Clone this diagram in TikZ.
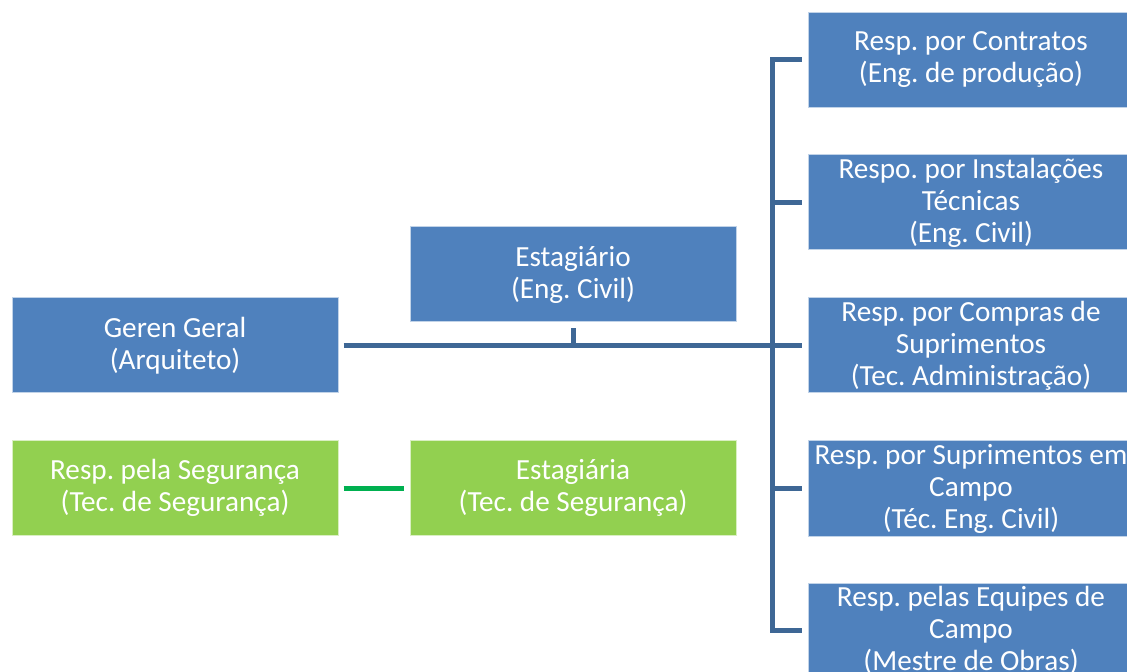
\documentclass[tikz,border=0pt]{standalone}
\usepackage{fontspec}
\setmainfont{Carlito}
\usetikzlibrary{calc}
\definecolor{boxblue}{HTML}{4F81BD}
\definecolor{boxgreen}{HTML}{92D050}
\definecolor{linkblue}{HTML}{3E6795}
\definecolor{linkgreen}{HTML}{00B050}
\frenchspacing
\begin{document}
\begin{tikzpicture}[x=0.5pt,y=-0.5pt,
	orgbox/.style={rectangle, fill=boxblue, draw=white!65!boxblue, line width=0.5pt,
		minimum width=163pt, minimum height=47.5pt, inner sep=0pt,
		text=white, align=center, font=\fontsize{14.6pt}{16pt}\selectfont},
	greenbox/.style={orgbox, fill=boxgreen, draw=white!65!boxgreen},
	bluelink/.style={draw=linkblue, line width=2.5pt},
	greenlink/.style={draw=linkgreen, line width=2.5pt}]
			%%%%% START %%%%%
			\useasboundingbox (0,0) rectangle (1127,672);
			\clip (0,0) rectangle (1127,672);
			
			\node[orgbox] (geren) at (175, 345.5) {Geren Geral\\(Arquiteto)};
			\node[orgbox] (estagiario) at (573, 274.5) {Estagiário\\(Eng. Civil)};
			\node[greenbox] (seguranca) at (175, 488) {Resp. pela Segurança\\(Tec. de Segurança)};
			\node[greenbox] (estagiaria) at (573, 488) {Estagiária\\(Tec. de Segurança)};
			
			\node[orgbox] (contratos) at (971, 60) {Resp. por Contratos\\(Eng. de produção)};
			\node[orgbox] (instalacoes) at (971, 202.5) {Respo. por Instalações\\Técnicas\\(Eng. Civil)};
			\node[orgbox] (compras) at (971, 345.5) {Resp. por Compras de\\Suprimentos\\(Tec. Administração)};
			\node[orgbox] (suprimentos) at (971, 488.5) {Resp. por Suprimentos em\\Campo\\(Téc. Eng. Civil)};
			\node[orgbox] (equipes) at (971, 630.5) {Resp. pelas Equipes de\\Campo\\(Mestre de Obras)};
			
			\coordinate (spine) at (772, 345.5);
			
			\draw[bluelink, shorten <=2.5pt, shorten >=3pt] (geren.east) -- (compras.west);
			\draw[bluelink, shorten <=3pt] (estagiario.south) -- (estagiario.south |- geren.east);
			\draw[bluelink, shorten <=3pt, shorten >=3pt, line join=miter]
				(contratos.west) -| (spine |- equipes.west) -- (equipes.west);
			\draw[bluelink, shorten >=3pt] (spine |- instalacoes.west) -- (instalacoes.west);
			\draw[bluelink, shorten >=3pt] (spine |- suprimentos.west) -- (suprimentos.west);
			
			\draw[greenlink, shorten <=2.5pt, shorten >=3pt] (seguranca.east) -- (estagiaria.west);
			%%%%% END %%%%%
\end{tikzpicture}
\end{document}
